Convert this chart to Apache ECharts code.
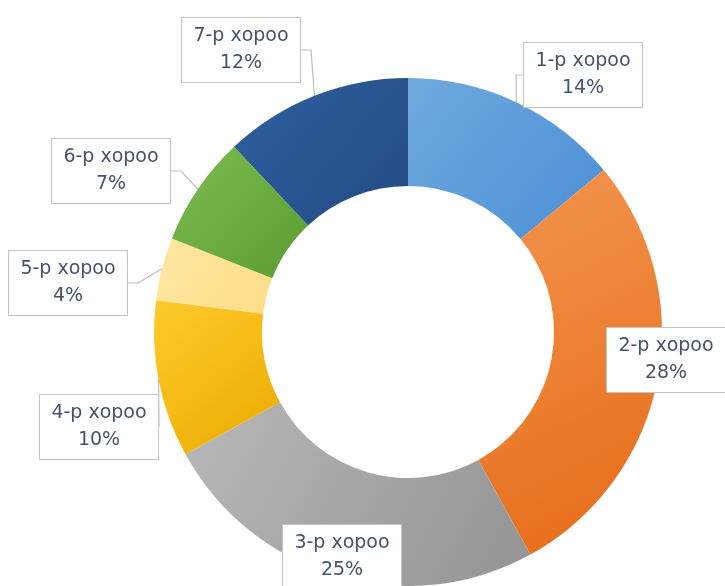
<!DOCTYPE html>
<html>
<head>
<meta charset="utf-8">
<script src="https://cdn.jsdelivr.net/npm/echarts@6/dist/echarts.min.js"></script>
<style>html,body{margin:0;padding:0;background:#fff;}#c{width:725px;height:586px;}</style>
</head>
<body>
<div id="c"></div>
<script>
const categories = ['1-р хороо','2-р хороо','3-р хороо','4-р хороо','5-р хороо','6-р хороо','7-р хороо'];
const values = [14, 28, 25, 10, 4, 7, 12];
const colorsTop = ['#6fa9df','#f39650','#b8b8b8','#ffca2c','#ffe7a3','#7dbd52','#2f60a0'];
const colorsBottom = ['#4b8fd5','#e56a16','#939393','#e9ab00','#ffdc86','#5c9b30','#234a82'];
const labelCenters = [[583,75],[666,360],[342,557],[99,427],[68,283],[111,171],[241,50]];
const showLine = [true,false,false,true,true,true,true];

const chart = echarts.init(document.getElementById('c'), null, {renderer:'canvas'});
const data = categories.map((n,i)=>({
  name:n, value:values[i],
  itemStyle:{color:new echarts.graphic.LinearGradient(0,0,1,1,[{offset:0,color:colorsTop[i]},{offset:1,color:colorsBottom[i]}])},
  labelLine:{show:showLine[i]}
}));
chart.setOption({
  animation:false,
  series:[{
    type:'pie',
    center:[408,332],
    radius:[146,254],
    startAngle:90,
    clockwise:true,
    data:data,
    label:{
      show:true,
      position:'outside',
      formatter:'{b}\n{d}%',
      fontFamily:'DejaVu Sans',
      fontSize:19,
      lineHeight:27,
      color:'#44546a',
      backgroundColor:'#ffffff',
      borderColor:'#c4c4c4',
      borderWidth:1,
      padding:[5,10],
      width:98,
      overflow:'none',
      align:'center'
    },
    labelLine:{show:true,length:10,length2:10,lineStyle:{color:'#bdbdbd',width:1.2}},
    labelLayout:function(p){
      const c = labelCenters[p.dataIndex];
      return {x:c[0], y:c[1], align:'center', verticalAlign:'middle'};
    },
    emphasis:{disabled:true}
  }]
});
</script>
</body>
</html>
